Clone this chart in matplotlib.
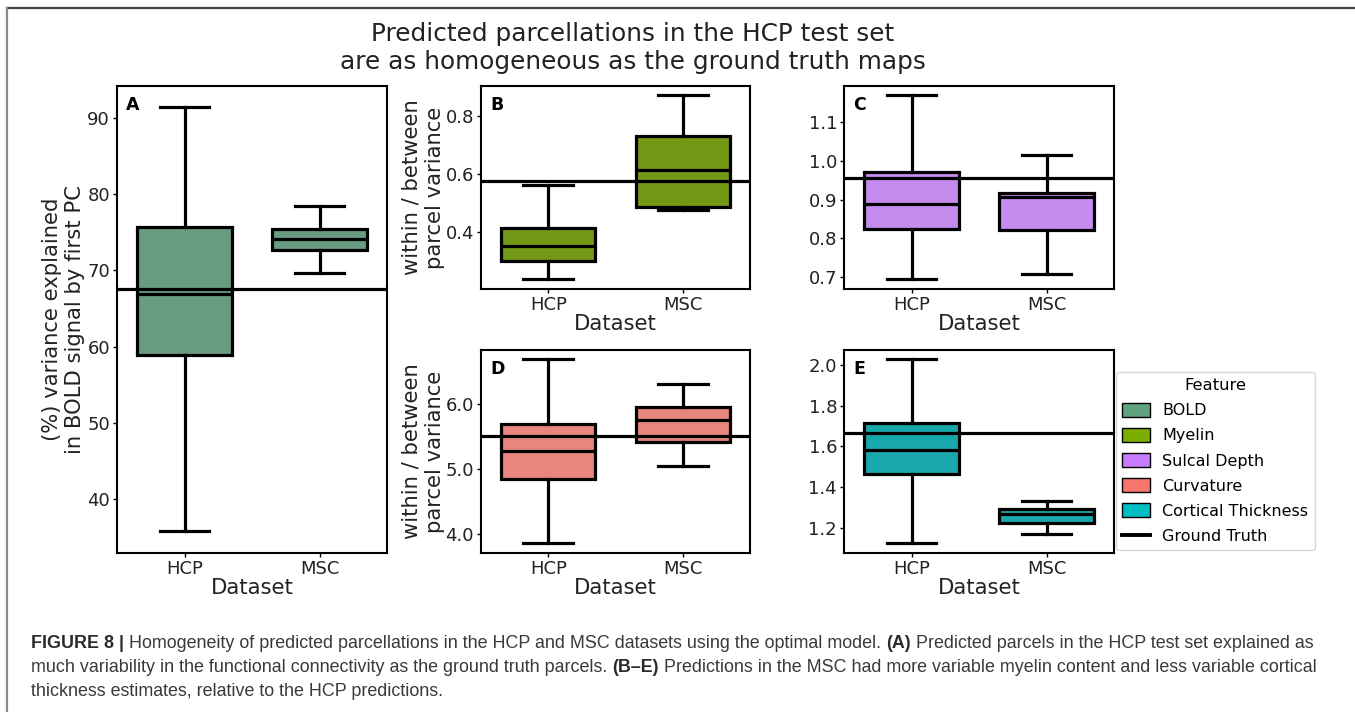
import colorsys
import matplotlib
matplotlib.use("Agg")
import matplotlib.pyplot as plt
from matplotlib.patches import Patch
from matplotlib.lines import Line2D
from matplotlib.ticker import FormatStrFormatter
import matplotlib.colors as mcolors

# ---------------- data ----------------
datasets = ["HCP", "MSC"]
features = ["BOLD", "Myelin", "Sulcal Depth", "Curvature", "Cortical Thickness"]
feature_colors = ["#5FA47F", "#7CAE00", "#C77CFF", "#F8766D", "#00BFC4"]

# five-number summaries: whislo, q1, median, q3, whishi
bold_hcp = [35.85, 58.87, 66.86, 75.72, 91.36]
bold_msc = [69.61, 72.62, 74.06, 75.38, 78.43]
bold_gt = 67.51

myelin_hcp = [0.240, 0.303, 0.354, 0.415, 0.563]
myelin_msc = [0.478, 0.489, 0.615, 0.731, 0.872]
myelin_gt = 0.578

sulcal_hcp = [0.694, 0.825, 0.889, 0.971, 1.170]
sulcal_msc = [0.709, 0.822, 0.908, 0.918, 1.016]
sulcal_gt = 0.957

curv_hcp = [3.87, 4.85, 5.28, 5.69, 6.69]
curv_msc = [5.05, 5.42, 5.75, 5.95, 6.31]
curv_gt = 5.51

thick_hcp = [1.124, 1.462, 1.582, 1.713, 2.030]
thick_msc = [1.167, 1.225, 1.265, 1.293, 1.330]
thick_gt = 1.668

bold_ticks = [40, 50, 60, 70, 80, 90]
myelin_ticks = [0.4, 0.6, 0.8]
sulcal_ticks = [0.7, 0.8, 0.9, 1.0, 1.1]
curv_ticks = [4.0, 5.0, 6.0]
thick_ticks = [1.2, 1.4, 1.6, 1.8, 2.0]

title = "Predicted parcellations in the HCP test set\nare as homogeneous as the ground truth maps"
ylabel_a = "(%) variance explained\nin BOLD signal by first PC"
ylabel_b = "within / between\nparcel variance"
caption_lines = [
    [("FIGURE 8 |", "bold"), (" Homogeneity of predicted parcellations in the HCP and MSC datasets using the optimal model. ", "normal"),
     ("(A)", "bold"), (" Predicted parcels in the HCP test set explained as", "normal")],
    [("much variability in the functional connectivity as the ground truth parcels. ", "normal"), ("(B\u2013E)", "bold"),
     (" Predictions in the MSC had more variable myelin content and less variable cortical", "normal")],
    [("thickness estimates, relative to the HCP predictions.", "normal")],
]

# ---------------- figure ----------------
W, H = 1355, 712
fig = plt.figure(figsize=(W / 100, H / 100), dpi=100)
plt.rcParams["font.family"] = ["DejaVu Sans"]


def desat(c, prop=0.75):
    r, g, b = mcolors.to_rgb(c)
    h, l, s = colorsys.rgb_to_hls(r, g, b)
    return colorsys.hls_to_rgb(h, l, s * prop)


def px_axes(x0, y0, x1, y1):
    return fig.add_axes([x0 / W, 1 - y1 / H, (x1 - x0) / W, (y1 - y0) / H])


LW = 2.3
TICK_FS = 13
LABEL_FS = 15.2


def panel(ax, hcp, msc, gt, color, ylim, ticks, letter, fmt=None):
    stats = []
    for lab, v in zip(datasets, [hcp, msc]):
        stats.append(dict(label=lab, whislo=v[0], q1=v[1], med=v[2], q3=v[3], whishi=v[4], fliers=[]))
    ax.bxp(stats, positions=[0, 1], widths=0.7, capwidths=0.37, patch_artist=True, showfliers=False,
           boxprops=dict(facecolor=desat(color), edgecolor="black", linewidth=LW),
           medianprops=dict(color="black", linewidth=LW),
           whiskerprops=dict(color="black", linewidth=LW),
           capprops=dict(color="black", linewidth=LW))
    ax.axhline(gt, color="black", linewidth=LW, zorder=5)
    ax.set_xlim(-0.5, 1.5)
    ax.set_ylim(*ylim)
    ax.set_yticks(ticks)
    if fmt:
        ax.yaxis.set_major_formatter(FormatStrFormatter(fmt))
    ax.set_xticks([0, 1])
    ax.set_xticklabels(datasets)
    ax.tick_params(labelsize=TICK_FS, length=3, pad=2, width=1, labelcolor="#222222")
    for s in ax.spines.values():
        s.set_linewidth(1.5)
    ax.set_xlabel("Dataset", fontsize=LABEL_FS, color="#222222")
    h_px = ax.get_position().height * H
    ax.xaxis.set_label_coords(0.5, -35 / h_px)
    ax.xaxis.label.set_va("center")
    ax.annotate(letter, xy=(0, 1), xycoords="axes fraction", xytext=(6.5, -7.5),
                textcoords="offset points", ha="left", va="top", fontsize=12.5, fontweight="bold")


axA = px_axes(117, 86, 387, 553)
axB = px_axes(481, 86, 750, 289)
axC = px_axes(844, 86, 1114, 289)
axD = px_axes(481, 350, 750, 553)
axE = px_axes(844, 350, 1114, 553)

panel(axA, bold_hcp, bold_msc, bold_gt, feature_colors[0], (32.96, 94.15), bold_ticks, "A")
panel(axB, myelin_hcp, myelin_msc, myelin_gt, feature_colors[1], (0.206, 0.903), myelin_ticks, "B", "%.1f")
panel(axC, sulcal_hcp, sulcal_msc, sulcal_gt, feature_colors[2], (0.669, 1.194), sulcal_ticks, "C", "%.1f")
panel(axD, curv_hcp, curv_msc, curv_gt, feature_colors[3], (3.71, 6.83), curv_ticks, "D", "%.1f")
panel(axE, thick_hcp, thick_msc, thick_gt, feature_colors[4], (1.075, 2.074), thick_ticks, "E", "%.1f")

axA.set_ylabel(ylabel_a, fontsize=LABEL_FS, va="center", color="#222222")
axA.yaxis.set_label_coords((63.5 - 117) / 270, 0.5)
for ax in (axB, axD):
    ax.set_ylabel(ylabel_b, fontsize=LABEL_FS, va="center", color="#222222")
    ax.yaxis.set_label_coords((423 - 481) / 269, 0.5)

# legend
handles = [Patch(facecolor=c, edgecolor="black", linewidth=1.0) for c in feature_colors]
handles.append(Line2D([0], [0], color="black", linewidth=2.8))
fig.legend(handles, features + ["Ground Truth"], title="Feature", loc="upper left",
           bbox_to_anchor=(1116 / W, 1 - 372 / H), fontsize=11.5, title_fontsize=11.8,
           handlelength=1.7, handleheight=0.9, labelspacing=0.62, borderaxespad=0)

# title
fig.text(633 / W, 1 - 48 / H, title, ha="center", va="center", fontsize=17.8, linespacing=1.22,
         color="#222222")

# frame decoration
fig.add_artist(Line2D([7 / W, 1], [1 - 8 / H, 1 - 8 / H], color="#444444", linewidth=1.6, transform=fig.transFigure))
fig.add_artist(Line2D([7 / W, 7 / W], [1 - 8 / H, 0], color="#8a8a8a", linewidth=1.6, transform=fig.transFigure))

# caption
renderer = fig.canvas.get_renderer()
baselines = [648, 672, 696]
for line, yb in zip(caption_lines, baselines):
    x = 31 / W
    for txt, wt in line:
        t = fig.text(x, 1 - yb / H, txt, ha="left", va="baseline", fontsize=12.9, fontweight=wt,
                     family=["Liberation Sans", "DejaVu Sans"], color="#2b2b2b" if wt == "bold" else "#3a3a3a")
        bb = t.get_window_extent(renderer)
        x = bb.x1 / W

fig.savefig("out.png", dpi=100)
